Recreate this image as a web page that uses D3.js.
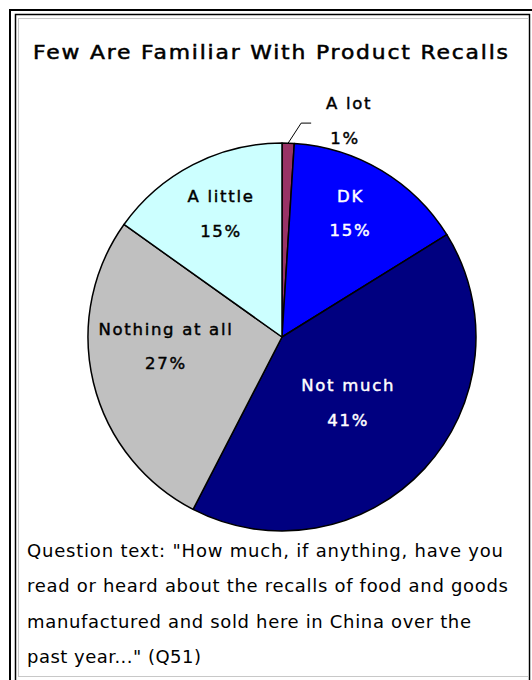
<!DOCTYPE html>
<html><head><meta charset="utf-8">
<script src="https://cdn.jsdelivr.net/npm/d3@7/dist/d3.min.js"></script>
<style>
html,body{margin:0;padding:0;background:#fff;}
svg{display:block;}
text{font-family:"DejaVu Sans",Verdana,sans-serif;}
</style></head>
<body>
<svg id="chart" width="532" height="680"></svg>
<script>
const categories = ["A lot", "DK", "Not much", "Nothing at all", "A little"];
const values = [1, 15, 41, 27, 15];
const percentLabels = ["1%", "15%", "41%", "27%", "15%"];
const title = "Few Are Familiar With Product Recalls";
const questionLines = [
  "Question text: \"How much, if anything, have you",
  "read or heard about the recalls of food and goods",
  "manufactured and sold here in China over the",
  "past year...\" (Q51)"
];

const fills = ["#993366", "#0000FF", "#000080", "#C0C0C0", "#CCFFFF"];
const textColors = ["#000", "#fff", "#fff", "#000", "#000"];
// label placement: [radius fraction, angle offset in degrees]
const labelPlace = [null, [0.73, -2], [0.48, 2], [0.6, 9], [0.71, 1]];
const questionWidths = [476, 481, 444, 174];

const svg = d3.select("#chart");

// frames
svg.append("rect").attr("x", 10).attr("y", 10).attr("width", 540).attr("height", 700)
  .attr("fill", "none").attr("stroke", "#000").attr("stroke-width", 2);
svg.append("rect").attr("x", 15.5).attr("y", 14.5).attr("width", 514).attr("height", 700)
  .attr("fill", "#fff").attr("stroke", "#000").attr("stroke-width", 1.5);
svg.append("rect").attr("x", 18.5).attr("y", 18.5).attr("width", 510).attr("height", 658)
  .attr("fill", "none").attr("stroke", "#c8c8c8").attr("stroke-width", 1);

function styleLabel(sel, color) {
  return sel.attr("font-size", 16.5).attr("letter-spacing", 1.7)
    .attr("fill", color).attr("stroke", color).attr("stroke-width", 0.45)
    .attr("text-anchor", "middle").attr("dominant-baseline", "central");
}

svg.append("g").attr("transform", "translate(33,59) scale(1.15,1)")
  .append("text").attr("x", 0).attr("y", 0)
  .attr("font-size", 19).attr("fill", "#000").attr("stroke", "#000").attr("stroke-width", 0.5)
  .attr("textLength", 475 / 1.15).attr("lengthAdjust", "spacing")
  .text(title);

const cx = 282, cy = 337, R = 194;
const g = svg.append("g").attr("transform", `translate(${cx},${cy})`);
const pie = d3.pie().sort(null).value(d => d)(values);
const arc = d3.arc().innerRadius(0).outerRadius(R);

g.selectAll("path.slice").data(pie).enter().append("path")
  .attr("class", "slice")
  .attr("d", arc)
  .attr("fill", (d, i) => fills[i])
  .attr("stroke", "#000").attr("stroke-width", 1.5).attr("stroke-linejoin", "round");

pie.forEach((d, i) => {
  const mid = (d.startAngle + d.endAngle) / 2;
  if (i === 0) {
    const p0 = [Math.sin(mid) * R, -Math.cos(mid) * R];
    const p1 = [p0[0] + 13, p0[1] - 20];
    const p2 = [p1[0] + 10, p1[1]];
    g.append("polyline").attr("points", [p0, p1, p2].map(p => p.join(",")).join(" "))
      .attr("fill", "none").attr("stroke", "#000").attr("stroke-width", 1);
    styleLabel(g.append("text").attr("x", p2[0] + 38).attr("y", p2[1] - 20), textColors[i]).text(categories[i]);
    styleLabel(g.append("text").attr("x", p2[0] + 34).attr("y", p2[1] + 15), textColors[i]).text(percentLabels[i]);
    return;
  }
  const [f, da] = labelPlace[i];
  const a = mid + da * Math.PI / 180;
  const x = Math.sin(a) * R * f, y = -Math.cos(a) * R * f;
  styleLabel(g.append("text").attr("x", x).attr("y", y - 17), textColors[i]).text(categories[i]);
  styleLabel(g.append("text").attr("x", x).attr("y", y + 17.5), textColors[i]).text(percentLabels[i]);
});

svg.selectAll("text.q").data(questionLines).enter().append("text")
  .attr("class", "q")
  .attr("x", 27).attr("y", (d, i) => 557 + i * 35.3)
  .attr("font-size", 18).attr("fill", "#000")
  .attr("textLength", (d, i) => questionWidths[i]).attr("lengthAdjust", "spacing")
  .text(d => d);
</script>
</body></html>
